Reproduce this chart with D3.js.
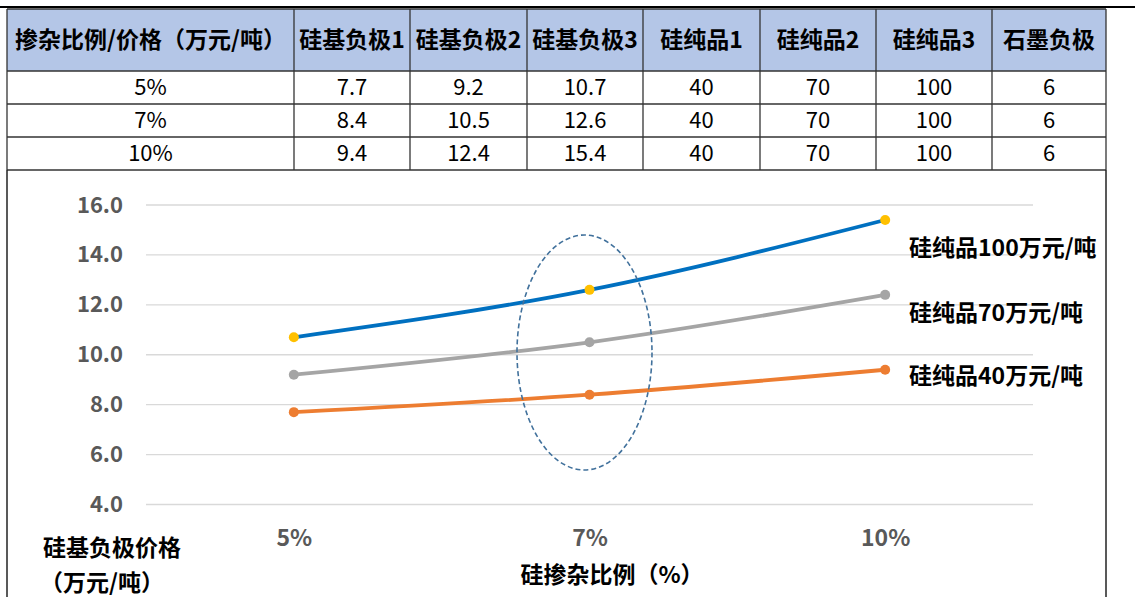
<!DOCTYPE html>
<meta charset="utf-8">
<style>
body { margin: 0; background: #fff; }
svg text { font-family: "Noto Sans CJK SC", "Noto Sans", sans-serif; }
</style>
<body>
<script src="https://d3js.org/d3.v7.min.js"></script>
<script>

var w = 1135, h = 597;

// table data
var tableHeader = ["掺杂比例/价格（万元/吨）", "硅基负极1", "硅基负极2", "硅基负极3", "硅纯品1", "硅纯品2", "硅纯品3", "石墨负极"];
var tableRows = [
    ["5%", "7.7", "9.2", "10.7", "40", "70", "100", "6"],
    ["7%", "8.4", "10.5", "12.6", "40", "70", "100", "6"],
    ["10%", "9.4", "12.4", "15.4", "40", "70", "100", "6"]
];

// chart data
var categories = ["5%", "7%", "10%"];
var seriesNames = ["硅纯品100万元/吨", "硅纯品70万元/吨", "硅纯品40万元/吨"];
var price100 = [10.7, 12.6, 15.4];
var price70 = [9.2, 10.5, 12.4];
var price40 = [7.7, 8.4, 9.4];
var yTicks = [4, 6, 8, 10, 12, 14, 16];

var svg = d3.select("body").append("svg")
    .attr("width", w)
    .attr("height", h);

// ---- table ----
var colEdges = [7, 294, 410, 527, 643, 760, 876, 992, 1106];
var rowEdges = [9, 71, 104, 137, 170];

svg.append("line")
    .attr("x1", 0).attr("x2", w).attr("y1", 7).attr("y2", 7)
    .attr("stroke", "#000").attr("stroke-width", 2);

svg.append("rect")
    .attr("x", colEdges[0]).attr("y", rowEdges[0])
    .attr("width", colEdges[8] - colEdges[0]).attr("height", rowEdges[1] - rowEdges[0])
    .attr("fill", "#b4c6e7");

var allRows = [tableHeader].concat(tableRows);
allRows.forEach(function(row, r) {
    row.forEach(function(cell, c) {
        svg.append("text")
            .attr("x", (colEdges[c] + colEdges[c + 1]) / 2)
            .attr("y", (rowEdges[r] + rowEdges[r + 1]) / 2)
            .attr("dy", "0.36em")
            .attr("text-anchor", "middle")
            .attr("font-size", r == 0 ? "23px" : "22px")
            .attr("font-weight", r == 0 ? 700 : 400)
            .attr("fill", "#000")
            .text(cell);
    });
});

// grid lines of the table
svg.selectAll(".hline").data(rowEdges).enter().append("line")
    .attr("x1", colEdges[0]).attr("x2", colEdges[8])
    .attr("y1", function(d) { return d; }).attr("y2", function(d) { return d; })
    .attr("stroke", "#333").attr("stroke-width", 1.3);
svg.selectAll(".vline").data(colEdges).enter().append("line")
    .attr("x1", function(d) { return d; }).attr("x2", function(d) { return d; })
    .attr("y1", rowEdges[0]).attr("y2", rowEdges[4])
    .attr("stroke", "#333").attr("stroke-width", 1.3);

// chart frame
svg.append("line").attr("x1", 7).attr("x2", 7).attr("y1", 170).attr("y2", h)
    .attr("stroke", "#222").attr("stroke-width", 1.5);
svg.append("line").attr("x1", 1106).attr("x2", 1106).attr("y1", 170).attr("y2", h)
    .attr("stroke", "#222").attr("stroke-width", 1.5);

// ---- chart ----
var x = d3.scalePoint()
    .domain(categories)
    .range([146, 1033])
    .padding(0.5);
var y = d3.scaleLinear()
    .domain([4, 16])
    .range([504.5, 205]);

// gridlines
svg.append("g").selectAll("line").data(yTicks).enter().append("line")
    .attr("x1", 146).attr("x2", 1033)
    .attr("y1", function(d) { return y(d); })
    .attr("y2", function(d) { return y(d); })
    .attr("stroke", "#d9d9d9").attr("stroke-width", 1.3);

// y axis labels
var yAxis = d3.axisLeft(y).tickValues(yTicks).tickFormat(d3.format(".1f")).tickSize(0).tickPadding(0);
var gy = svg.append("g").attr("transform", "translate(123,0)").call(yAxis);
gy.select(".domain").remove();
gy.selectAll("text")
    .attr("font-family", "'Noto Sans', sans-serif")
    .attr("font-size", "22px").attr("font-weight", 700).attr("fill", "#595959");

// x axis labels
var xAxis = d3.axisBottom(x).tickSize(0).tickPadding(0);
var gx = svg.append("g").attr("transform", "translate(0,530)").call(xAxis);
gx.select(".domain").remove();
gx.selectAll("text")
    .attr("font-family", "'Noto Sans', sans-serif")
    .attr("font-size", "23px").attr("font-weight", 700).attr("fill", "#595959");

var series = [
    { name: seriesNames[0], values: price100, color: "#0070c0", marker: "#ffc000" },
    { name: seriesNames[1], values: price70, color: "#a5a5a5", marker: "#a5a5a5" },
    { name: seriesNames[2], values: price40, color: "#ed7d31", marker: "#ed7d31" }
];

var line = d3.line()
    .x(function(d, i) { return x(categories[i]); })
    .y(function(d) { return y(d); })
    .curve(d3.curveMonotoneX);

series.forEach(function(s) {
    svg.append("path")
        .attr("d", line(s.values))
        .attr("fill", "none")
        .attr("stroke", s.color)
        .attr("stroke-width", 3.8);
    svg.selectAll(null).data(s.values).enter().append("circle")
        .attr("cx", function(d, i) { return x(categories[i]); })
        .attr("cy", function(d) { return y(d); })
        .attr("r", 5)
        .attr("fill", s.marker);
});

// series labels
var labelY = [248, 313, 376];
series.forEach(function(s, i) {
    svg.append("text")
        .attr("x", 909).attr("y", labelY[i]).attr("dy", "0.36em")
        .attr("font-size", "23px").attr("font-weight", 700).attr("fill", "#000")
        .text(s.name);
});

// dashed ellipse around 7%
svg.append("ellipse")
    .attr("cx", x("7%") - 5).attr("cy", 352.5)
    .attr("rx", 67.5).attr("ry", 117.5)
    .attr("fill", "none")
    .attr("stroke", "#41719c").attr("stroke-width", 1.6)
    .attr("stroke-dasharray", "5,3");

// axis titles
svg.append("text").attr("x", 112).attr("y", 548).attr("dy", "0.36em")
    .attr("text-anchor", "middle").attr("font-size", "23px").attr("font-weight", 700)
    .text("硅基负极价格");
svg.append("text").attr("x", 102).attr("y", 583).attr("dy", "0.36em")
    .attr("text-anchor", "middle").attr("font-size", "23px").attr("font-weight", 700)
    .text("（万元/吨）");
svg.append("text").attr("x", 612).attr("y", 575).attr("dy", "0.36em")
    .attr("text-anchor", "middle").attr("font-size", "23px").attr("font-weight", 700)
    .text("硅掺杂比例（%）");

</script>
</body>
